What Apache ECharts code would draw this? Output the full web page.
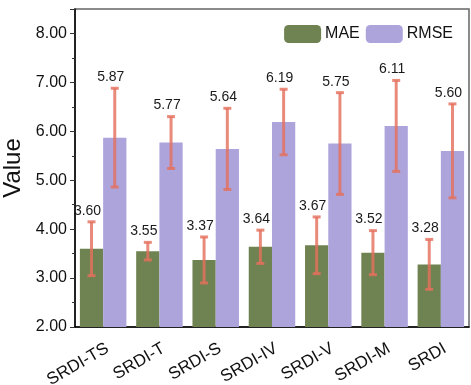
<!DOCTYPE html>
<html>
<head>
<meta charset="utf-8">
<script src="https://cdn.jsdelivr.net/npm/echarts@6/dist/echarts.min.js"></script>
<style>
  html, body { margin: 0; padding: 0; background: #fff; }
  #chart { width: 471px; height: 385px; }
</style>
</head>
<body>
<div id="chart"></div>
<script>
// Model variants and their error metrics (mean and spread)
const categories = ['SRDI-TS', 'SRDI-T', 'SRDI-S', 'SRDI-IV', 'SRDI-V', 'SRDI-M', 'SRDI'];
const maeValues = [3.60, 3.55, 3.37, 3.64, 3.67, 3.52, 3.28];
const maeStd = [0.55, 0.18, 0.47, 0.34, 0.58, 0.45, 0.51];
const rmseValues = [5.87, 5.77, 5.64, 6.19, 5.75, 6.11, 5.60];
const rmseStd = [1.01, 0.53, 0.83, 0.67, 1.04, 0.93, 0.96];
const seriesNames = ['MAE', 'RMSE'];

const BAR_FRAC = 0.413;
const COLORS = ['#6f8251', '#ada4dc'];
const ERR_COLOR = 'rgba(228, 112, 94, 0.82)';

// Error bar with caps and a value label, positioned over its own bar
function errorRenderer(means, stds, side) {
  return function (params, api) {
    const i = api.value(0);
    const band = api.size([1, 0])[0];
    const barW = band * BAR_FRAC;
    const center = api.coord([i, 0])[0] + side * barW / 2;
    const top = api.coord([i, means[i] + stds[i]])[1];
    const bottom = api.coord([i, means[i] - stds[i]])[1];
    const cap = 4;
    const style = { stroke: ERR_COLOR, lineWidth: 3 };
    return {
      type: 'group',
      children: [
        { type: 'line', shape: { x1: center, y1: top, x2: center, y2: bottom }, style },
        { type: 'line', shape: { x1: center - cap, y1: top, x2: center + cap, y2: top }, style },
        { type: 'line', shape: { x1: center - cap, y1: bottom, x2: center + cap, y2: bottom }, style },
        {
          type: 'text',
          style: {
            x: center - 4, y: top - 4,
            text: means[i].toFixed(2),
            align: 'center', verticalAlign: 'bottom',
            fontSize: 14, fontFamily: 'Liberation Sans, Arial, sans-serif',
            fill: '#1a1a1a'
          },
          z2: 10
        }
      ]
    };
  };
}

const chart = echarts.init(document.getElementById('chart'), null, { renderer: 'canvas' });
chart.setOption({
  animation: false,
  textStyle: { fontFamily: 'Liberation Sans, Arial, sans-serif' },
  grid: {
    left: 75, right: 2, top: 9, bottom: 58,
    outerBoundsMode: 'none', containLabel: false,
    show: true, borderColor: '#666', borderWidth: 1.5
  },
  legend: {
    data: seriesNames,
    right: 13, top: 20,
    itemWidth: 37, itemHeight: 18, itemGap: 6,
    textStyle: { fontSize: 16, color: '#111', padding: [0, 0, 0, -1] },
    selectedMode: false
  },
  xAxis: {
    type: 'category',
    data: categories,
    axisLine: { lineStyle: { color: '#000', width: 1.5 } },
    axisTick: { alignWithLabel: true, length: 5, lineStyle: { color: '#555', width: 1.5 } },
    axisLabel: {
      rotate: 30, fontSize: 17, color: '#111', margin: 13, interval: 0,
      align: 'right', verticalAlign: 'top'
    }
  },
  yAxis: {
    type: 'value',
    min: 2, max: 8.5, interval: 1,
    name: 'Value', nameLocation: 'middle', nameGap: 37,
    nameTextStyle: { fontSize: 24, color: '#111' },
    axisLine: { show: true, lineStyle: { color: '#000', width: 1.5 } },
    axisTick: { show: true, length: 5, lineStyle: { color: '#333', width: 1 } },
    minorTick: { show: true, splitNumber: 2, length: 3, lineStyle: { color: '#333' } },
    splitLine: { show: false },
    axisLabel: {
      fontSize: 16, color: '#111', margin: 8,
      formatter: v => (Number.isInteger(v) ? v.toFixed(2) : '')
    }
  },
  series: [
    {
      name: seriesNames[0], type: 'bar', data: maeValues,
      barWidth: (BAR_FRAC * 100) + '%', barGap: '0%',
      itemStyle: { color: COLORS[0] }
    },
    {
      name: seriesNames[1], type: 'bar', data: rmseValues,
      barWidth: (BAR_FRAC * 100) + '%', barGap: '0%',
      itemStyle: { color: COLORS[1] }
    },
    {
      type: 'custom', data: maeValues.map((v, i) => [i, v]),
      renderItem: errorRenderer(maeValues, maeStd, -1), z: 5, silent: true
    },
    {
      type: 'custom', data: rmseValues.map((v, i) => [i, v]),
      renderItem: errorRenderer(rmseValues, rmseStd, 1), z: 5, silent: true
    }
  ]
});
</script>
</body>
</html>
